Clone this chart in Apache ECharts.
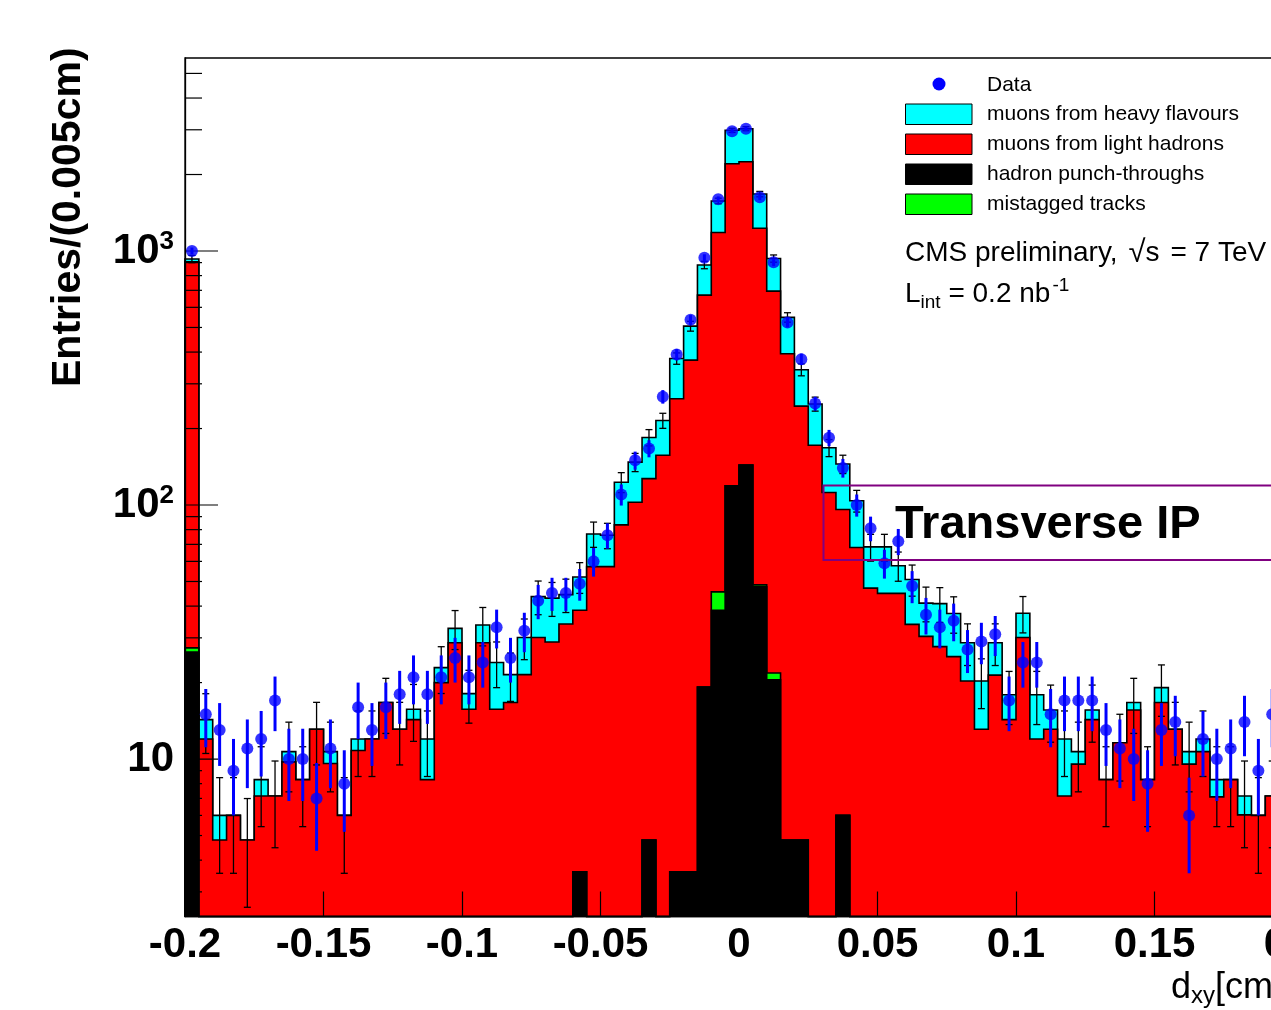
<!DOCTYPE html>
<html>
<head>
<meta charset="utf-8">
<title>Transverse IP</title>
<script src="https://cdn.jsdelivr.net/npm/echarts@6/dist/echarts.min.js"></script>
<style>
  html, body { margin: 0; padding: 0; background: #fff; }
  #chart { width: 1271px; height: 1010px; }
</style>
</head>
<body>
<div id="chart"></div>
<script>
// d_xy histogram: 80 bins of 0.005 cm between -0.2 and 0.2
var X_MIN = -0.2, X_MAX = 0.2, BIN = 0.005;
var Y_MIN = 2.4, Y_MAX = 5750;
var FONT = 'Liberation Sans';

var dataCounts = [
  1000, 15, 13, 9, 11, 12, 17, 10, 10, 7,
  11, 8, 16, 13, 16, 18, 21, 18, 21, 25,
  21, 24, 33, 25, 32, 42, 45, 45, 49, 60,
  76, 110, 150, 167, 267, 391, 536, 940, 1600, 2960,
  3030, 1626, 902, 523, 375, 251, 184, 140, 100, 81,
  59, 72, 48, 37, 33, 35, 27, 29, 31, 17,
  24, 24, 15, 17, 17, 17, 13, 11, 10, 8,
  13, 14, 6, 12, 10, 11, 14, 9, 15, 10
];
var heavyFlavour = [
  24, 2.3, 1.2, 0, 0, 1.15, 0, 0.95, 0, 0,
  1.1, 0, 1.2, 0, 0, 0, 1.4, 3.7, 2.9, 4.0,
  2.4, 5.0, 8.3, 4.8, 8.6, 13.5, 14.1, 10.4, 13.6, 19.7,
  18.8, 39.5, 44.9, 57.5, 58, 115.5, 134, 211, 391, 782,
  786, 447, 239, 154, 96, 78, 56, 49, 36, 21.3,
  23.5, 12.8, 17, 10.7, 13.2, 12.1, 8.4, 7.2, 7.3, 3.6,
  7.4, 5.9, 2.5, 4.85, 1.15, 1.3, 0, 0, 1.1, 0,
  2.4, 0, 1.15, 1.3, 1.2, 0, 1.12, 0, 0, 1.0
];
var lightHadron = [
  878.6, 12.0, 4.8, 6.0, 4.8, 7.15, 7.15, 9.75, 8.3, 13.1,
  9.6, 6.0, 10.8, 12.0, 16.7, 13.1, 14.3, 8.3, 20.0, 28.7,
  15.7, 28.7, 15.7, 16.7, 21.5, 30.1, 28.9, 34.0, 34.9, 57.2,
  57.2, 83.5, 102.6, 122.2, 157, 258.4, 368.4, 650.8, 1137.5, 2085,
  2100.4, 1179.5, 673.2, 389.2, 240.2, 172, 112, 90, 68, 47.1,
  44.9, 44.9, 33.9, 30.4, 27.7, 25.3, 20.3, 13.1, 21.4, 14.3,
  30.1, 12.0, 13.1, 7.15, 9.55, 14.3, 8.3, 11.6, 15.6, 8.3,
  16.7, 13.1, 9.55, 10.7, 7.1, 8.3, 6.03, 6.0, 7.15, 6.5
];
var mistagged = [
  1.0, 0, 0, 0, 0, 0, 0, 0, 0, 0,
  0, 0, 0, 0, 0, 0, 0, 0, 0, 0,
  0, 0, 0, 0, 0, 0, 0, 0, 0, 0,
  0, 0, 0, 0, 0, 0, 0, 0, 7.0, 0,
  0, 0.8, 1.3, 0, 0, 0, 0, 0, 0, 0,
  0, 0, 0, 0, 0, 0, 0, 0, 0, 0,
  0, 0, 0, 0, 0, 0, 0, 0, 0, 0,
  0, 0, 0, 0, 0, 0, 0, 0, 0, 0
];
var punchThrough = [
  26.4, 0, 0, 0, 0, 0, 0, 0, 0, 0,
  0, 0, 0, 0, 0, 0, 0, 0, 0, 0,
  0, 0, 0, 0, 0, 0, 0, 0, 3.6, 0,
  0, 0, 0, 4.8, 0, 3.6, 3.6, 19.2, 38.5, 119,
  143.6, 47.7, 20.5, 4.8, 4.8, 0, 0, 6.0, 0, 0,
  0, 0, 0, 0, 0, 0, 0, 0, 0, 0,
  0, 0, 0, 0, 0, 0, 0, 0, 0, 0,
  0, 0, 0, 0, 0, 0, 0, 0, 0, 0
];

var yMajorTicks = [10, 100, 1000];
var yMinorTicks = [3, 4, 5, 6, 7, 8, 9, 20, 30, 40, 50, 60, 70, 80, 90,
  200, 300, 400, 500, 600, 700, 800, 900, 2000, 3000, 4000, 5000];

// stacked tops, bottom layer first
var topBlack = punchThrough.slice();
var topGreen = topBlack.map(function (v, i) { return v + mistagged[i]; });
var topRed = topGreen.map(function (v, i) { return v + lightHadron[i]; });
var topAll = topRed.map(function (v, i) { return v + heavyFlavour[i]; });

function binCenter(i) { return X_MIN + (i + 0.5) * BIN; }

function stepLayer(name, tops, color) {
  return {
    type: 'custom', name: name, silent: true,
    data: [[0, 10]],
    renderItem: function (params, api) {
      var pts = [api.coord([X_MIN, Y_MIN])];
      for (var i = 0; i < tops.length; i++) {
        var v = Math.max(tops[i], Y_MIN);
        var lo = X_MIN + i * BIN;
        pts.push(api.coord([lo, v]), api.coord([lo + BIN, v]));
      }
      pts.push(api.coord([X_MAX, Y_MIN]));
      return {
        type: 'group',
        children: [
          { type: 'polygon', shape: { points: pts }, style: { fill: color } },
          { type: 'polyline', shape: { points: pts }, style: { fill: null, stroke: '#000', lineWidth: 1.6 } }
        ]
      };
    }
  };
}

function errorBars(values, color, width, cap) {
  return {
    type: 'custom', silent: true,
    data: values.map(function (v, i) { return [binCenter(i), v]; }),
    renderItem: function (params, api) {
      var x = api.value(0), v = api.value(1);
      var e = Math.sqrt(v); // poisson error
      var hi = api.coord([x, v + e]);
      var lo = api.coord([x, Math.max(v - e, Y_MIN)]);
      var st = { stroke: color, lineWidth: width };
      var kids = [{ type: 'line', shape: { x1: hi[0], y1: hi[1], x2: lo[0], y2: lo[1] }, style: st }];
      if (cap) {
        kids.push({ type: 'line', shape: { x1: hi[0] - cap, y1: hi[1], x2: hi[0] + cap, y2: hi[1] }, style: st });
        kids.push({ type: 'line', shape: { x1: lo[0] - cap, y1: lo[1], x2: lo[0] + cap, y2: lo[1] }, style: st });
      }
      return { type: 'group', children: kids };
    }
  };
}

var yTickSeries = {
  type: 'custom', silent: true,
  data: yMajorTicks.concat(yMinorTicks).map(function (v) { return [X_MIN, v]; }),
  renderItem: function (params, api) {
    var v = api.value(1);
    var p = api.coord([X_MIN, v]);
    var len = yMajorTicks.indexOf(v) >= 0 ? 33 : 17;
    return { type: 'line', shape: { x1: p[0], y1: p[1], x2: p[0] + len, y2: p[1] }, style: { stroke: '#000', lineWidth: 1.2 } };
  }
};

var legendRows = [
  { label: 'muons from heavy flavours', color: '#00ffff' },
  { label: 'muons from light hadrons', color: '#ff0000' },
  { label: 'hadron punch-throughs', color: '#000000' },
  { label: 'mistagged tracks', color: '#00ff00' }
];

var graphics = [
  {
    type: 'text', x: 69, y: 387, rotation: Math.PI / 2, z: 50,
    style: { text: 'Entries/(0.005cm)', font: 'bold 41px ' + FONT, fill: '#000', align: 'left', verticalAlign: 'middle' }
  },
  {
    type: 'text', x: 1171, y: 988, z: 50,
    style: {
      text: '{t|d}{s|xy}{t|[cm]}', align: 'left', verticalAlign: 'middle',
      rich: {
        t: { fontSize: 36, fontFamily: FONT, fill: '#000', lineHeight: 40 },
        s: { fontSize: 24, fontFamily: FONT, fill: '#000', lineHeight: 16, verticalAlign: 'bottom' }
      }
    }
  },
  { type: 'circle', z: 50, shape: { cx: 939, cy: 84, r: 6.5 }, style: { fill: '#0000ff' } },
  { type: 'text', x: 987, y: 85, z: 50, style: { text: 'Data', font: '21px ' + FONT, fill: '#000', verticalAlign: 'middle' } },
  {
    type: 'text', x: 905, y: 253, z: 50,
    style: {
      text: '{t|CMS preliminary, }{r|\u221A}{t|s}{e|= 7 TeV}', verticalAlign: 'middle',
      rich: {
        t: { fontSize: 28, fontFamily: FONT, fill: '#000', lineHeight: 36 },
        r: { fontSize: 31, fontFamily: FONT, fill: '#000', lineHeight: 36, padding: [0, 0, 0, 3] },
        e: { fontSize: 28, fontFamily: FONT, fill: '#000', lineHeight: 36, padding: [0, 0, 0, 11] }
      }
    }
  },
  {
    type: 'text', x: 905, y: 294, z: 50,
    style: {
      text: '{t|L}{b|int}{t| = 0.2 nb}{p|-1}', verticalAlign: 'middle',
      rich: {
        t: { fontSize: 28, fontFamily: FONT, fill: '#000', lineHeight: 36 },
        b: { fontSize: 19, fontFamily: FONT, fill: '#000', lineHeight: 15, verticalAlign: 'bottom' },
        p: { fontSize: 19, fontFamily: FONT, fill: '#000', lineHeight: 18, verticalAlign: 'top', padding: [0, 0, 0, 2] }
      }
    }
  },
  {
    type: 'rect', z: 50, shape: { x: 823.5, y: 485.5, width: 520, height: 74.5 },
    style: { fill: null, stroke: '#800080', lineWidth: 2 }
  },
  {
    type: 'text', x: 895, y: 525, z: 51,
    style: { text: 'Transverse IP', font: 'bold 47px ' + FONT, fill: '#000', verticalAlign: 'middle' }
  }
];
legendRows.forEach(function (r, k) {
  var yc = 114 + k * 30;
  graphics.push({
    type: 'rect', z: 50, shape: { x: 905.5, y: yc - 10, width: 66.5, height: 20.5 },
    style: { fill: r.color, stroke: '#000', lineWidth: 1 }
  });
  graphics.push({
    type: 'text', x: 987, y: yc, z: 50,
    style: { text: r.label, font: '21px ' + FONT, fill: '#000', verticalAlign: 'middle' }
  });
});

var chart = echarts.init(document.getElementById('chart'));
chart.setOption({
  animation: false,
  backgroundColor: '#fff',
  textStyle: { fontFamily: FONT },
  grid: {
    left: 185, top: 58, width: 1108, height: 858.5,
    outerBoundsMode: 'none', containLabel: false,
    show: true, borderColor: '#000', borderWidth: 1.3
  },
  xAxis: {
    type: 'value', min: X_MIN, max: X_MAX, interval: 0.05, z: 10,
    axisLine: { show: true, onZero: false, lineStyle: { color: '#000', width: 1.3 } },
    axisTick: { show: true, inside: true, length: 25, lineStyle: { color: '#000', width: 1.2 } },
    axisLabel: {
      margin: 8, fontSize: 42, fontWeight: 'bold', fontFamily: FONT, color: '#000',
      formatter: function (v) { return String(Number(v.toFixed(3))); }
    },
    splitLine: { show: false }
  },
  yAxis: {
    type: 'log', logBase: 10, min: Y_MIN, max: Y_MAX, z: 10,
    axisLine: { show: true, onZero: false, lineStyle: { color: '#000', width: 1.3 } },
    axisTick: { show: false },
    minorTick: { show: false },
    splitLine: { show: false },
    axisLabel: {
      margin: 11,
      formatter: function (v) {
        var e = Math.round(Math.log10(v));
        if (Math.abs(Math.log10(v) - e) > 1e-6 || e < 1) return '';
        return e === 1 ? '{b|10}' : '{b|10}{s|' + e + '}';
      },
      rich: {
        b: { fontSize: 42, fontWeight: 'bold', fontFamily: FONT, color: '#000', lineHeight: 44 },
        s: { fontSize: 26, fontWeight: 'bold', fontFamily: FONT, color: '#000', lineHeight: 26, verticalAlign: 'top' }
      }
    }
  },
  graphic: graphics,
  series: [
    stepLayer('muons from heavy flavours', topAll, '#00ffff'),
    stepLayer('muons from light hadrons', topRed, '#ff0000'),
    stepLayer('mistagged tracks', topGreen, '#00ff00'),
    stepLayer('hadron punch-throughs', topBlack, '#000000'),
    yTickSeries,
    errorBars(topAll, '#000', 1.3, 3.5),
    errorBars(dataCounts, '#0000ff', 3, 0),
    {
      type: 'scatter', name: 'Data', silent: true,
      symbol: 'circle', symbolSize: 12,
      itemStyle: { color: '#0000ff' },
      data: dataCounts.map(function (v, i) { return [binCenter(i), v]; })
    }
  ]
});
</script>
</body>
</html>
